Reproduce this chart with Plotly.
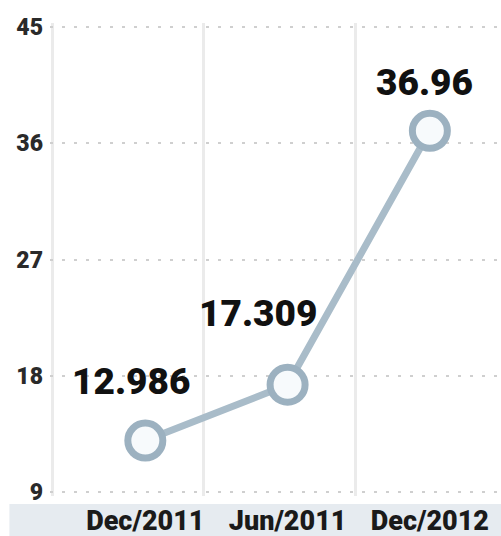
import plotly.graph_objects as go

# Data
periods = ["Dec/2011", "Jun/2011", "Dec/2012"]
values = [12.986, 17.309, 36.96]
value_labels = ["12.986", "17.309", "36.96"]
y_ticks = [9, 18, 27, 36, 45]

FONT = "Roboto, Liberation Sans, sans-serif"
LINE_COLOR = "#a9bcc9"
RING_COLOR = "#9cb1c0"

x_pos = list(range(len(periods)))

fig = go.Figure()
fig.add_trace(go.Scatter(
    x=x_pos,
    y=values,
    mode="lines+markers",
    line=dict(color=LINE_COLOR, width=7),
    marker=dict(size=35, color="#f7fafc", line=dict(color=RING_COLOR, width=7)),
    hoverinfo="skip",
    showlegend=False,
))

# value labels above each point
label_shifts = [(-14, 59), (-30, 71), (-5, 48)]
for xi, v, txt, (dx, dy) in zip(x_pos, values, value_labels, label_shifts):
    fig.add_annotation(
        x=xi, y=v, text=txt, showarrow=False,
        xshift=dx, yshift=dy,
        font=dict(family=FONT, size=37, color="#111111", weight=900),
    )

# light band behind the category labels
fig.add_shape(
    type="rect", xref="paper", yref="paper",
    x0=-0.09, x1=1.0, y0=-0.085, y1=-0.017,
    fillcolor="#e6ebf0", line=dict(width=0), layer="below",
)

fig.update_layout(
    width=501, height=536,
    margin=dict(l=50, r=0, t=23, b=40),
    paper_bgcolor="white",
    plot_bgcolor="white",
    xaxis=dict(
        range=[-0.67, 2.5],
        tickmode="array",
        tickvals=x_pos,
        ticktext=periods,
        tickfont=dict(family=FONT, size=27, color="#1a1a1a", weight=900),
        showgrid=False,
        zeroline=False,
        showline=False,
        ticks="",
        ticklabelstandoff=6,
        minor=dict(
            tickmode="array",
            tickvals=[-0.655, 0.41, 1.48],
            showgrid=True,
            gridcolor="#ebebeb",
            gridwidth=3,
            ticks="",
        ),
    ),
    yaxis=dict(
        range=[8.7, 45.3],
        tickmode="array",
        tickvals=y_ticks,
        ticktext=[str(t) for t in y_ticks],
        tickfont=dict(family=FONT, size=23, color="#2a2a2a", weight=900),
        showgrid=True,
        gridcolor="#cfcfcf",
        gridwidth=2,
        griddash="3px,9px",
        zeroline=False,
        showline=False,
        ticks="",
        ticklabelstandoff=6,
    ),
)

fig.write_html("out.html")
